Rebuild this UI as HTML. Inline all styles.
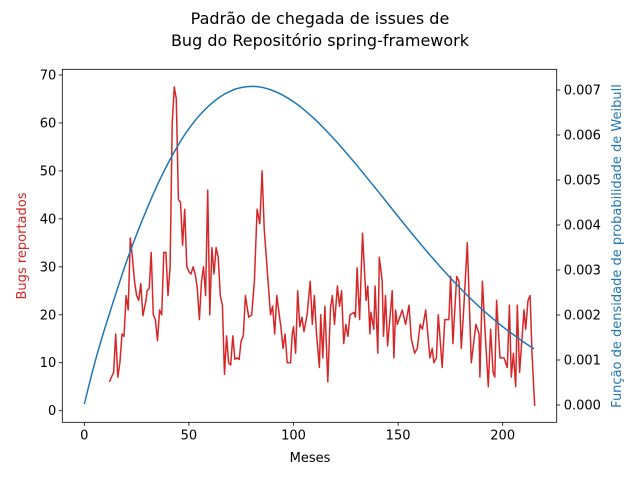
<!DOCTYPE html>
<html><head><meta charset="utf-8"><style>
body{margin:0;background:#fff;}
svg{display:block;font-family:"DejaVu Sans","Liberation Sans",sans-serif;}
</style></head><body>
<svg id="chart" width="640" height="480" viewBox="0 0 640 480">
<rect width="640" height="480" fill="#fff"/>
<text x="320" y="24" font-size="16" text-anchor="middle">Padrão de chegada de issues de</text>
<text x="320" y="46" font-size="16" text-anchor="middle">Bug do Repositório spring-framework</text>
<g id="plot"></g>
<text x="310" y="462" font-size="13" text-anchor="middle">Meses</text>
<text transform="translate(26,246) rotate(-90)" font-size="13" text-anchor="middle" fill="#d62728">Bugs reportados</text>
<text transform="translate(621,246) rotate(-90)" font-size="13" text-anchor="middle" fill="#1f77b4">Função de densidade de probabilidade de Weibull</text>
</svg>
<script>
const redMonths=[12,14,15,16,17,18,19,20,21,22,23,24,25,26,27,28,29.5,30,31,32,33,34,35,36,37,38,39,40,41,42,43,44,45,46,47,48,49,50,51,52,53,54,55,56,57,58,59,60,61,62,63,64,65,66,67,68,69,70,71,72,73,74,75,76,77,78.6,80,81.3,82.6,83.9,85,86,87,89,90,91,92,93.5,94,95,96,97,98.6,99.4,100,101,102,103,104,105,106.5,108,109,110,111,112.4,113,114,115,116.4,117.7,118.6,119.6,121,122,123,124,125,126,127,128.9,129.6,130.4,131.6,133,134.7,135.5,136.5,137,138.4,139,140.3,141,142.4,143,144,145,147.2,148,148.8,149.6,152,153.6,155.2,156.3,157.9,159.2,160.5,161.6,163.2,165.2,166.3,167.1,168.3,169.2,171.1,172.3,174.3,175.1,176.2,178,179.1,180.2,181.2,183.1,185,187.2,188.7,189.1,190.3,191.8,193.1,194.2,195.4,196.2,197.1,198.7,199.8,200.6,202.2,203.2,204.1,205.1,206.2,207,208.1,210.2,211,212.1,213.1,214,215.3];
const redCounts=[6,8,16,7,10,16,15.5,24,21,36,32,27,24,23,26.5,19.8,23,25,25.5,33,20,19,14.6,21,20,33,33,24,30,60,67.5,65,44,43.5,34.5,42,30,29,28.5,30,28.5,25.5,19,27,30,24,46,20,34,28.5,34,32,24,22,7.6,15.6,10,9.5,15.6,10.7,11,10.7,14.6,15.6,24,19.5,20,27,42,39,50,38,32,20,21.8,16,24,19,17.5,13,16,10,10,16,17.5,12,25,17.5,19.5,16.5,20,27,18,24,16,9,20,11,21.8,6,21.5,24,18,26,21.8,25,14,18,15.5,20,20.5,19.5,29.8,19,37,23,26,16,20.5,17,26,12,32,27,15.5,24,13.5,25,11,21,18,21,18,22,15,12,13,18,17,21,11,13,10,11,20,9,19,19,28,14,28,27,13,20,35,10,18,16,7,27,15,5,17,8,7,23,11,11,11,9,22,7,12,5,22,8,21,17,23,24,12,1];
const pdfMonths=[0,5,10,20,30,40,50,60,70,80,90,100,110,120,130,140,150,160,170,180,190,200,210,215];
const pdfValues=[0.00002,0.00094,0.00173,0.00316,0.00437,0.00537,0.00614,0.00667,0.00698,0.00708,0.00699,0.00674,0.00636,0.00588,0.00534,0.00477,0.00419,0.00362,0.00308,0.00258,0.00213,0.00174,0.0014,0.00125];
const xTicks=[0,50,100,150,200];
const leftTicks=[0,10,20,30,40,50,60,70];
const rightTicks=[0,0.001,0.002,0.003,0.004,0.005,0.006,0.007];
</script>
<script>
const svg=document.getElementById('chart');
const plot=document.getElementById('plot');
const NS='http://www.w3.org/2000/svg';
const L=62.3,R=556.7,T=69.3,B=422.3;
const xs=v=>84.3+(v)*(502.7-84.3)/200;
const yl=v=>410.7-v*(410.7-75)/70;
const yr=v=>405-v*(405-90)/0.007;
function mk(tag,attrs){const e=document.createElementNS(NS,tag);for(const k in attrs)e.setAttribute(k,attrs[k]);return e;}
xTicks.forEach(t=>{
  const g=mk('g',{});
  
  
  g.appendChild(mk('line',{x1:xs(t),x2:xs(t),y1:B,y2:B+3.5,stroke:'#000','stroke-width':0.8}));
  const tx=mk('text',{x:xs(t),y:B+17,'font-size':13,'text-anchor':'middle'});tx.textContent=t;g.appendChild(tx);
  svg.appendChild(g);
});
leftTicks.forEach(t=>{
  const g=mk('g',{});
  
  
  g.appendChild(mk('line',{x1:L-3.5,x2:L,y1:yl(t),y2:yl(t),stroke:'#000','stroke-width':0.8}));
  const tx=mk('text',{x:L-6,y:yl(t)+4.5,'font-size':13,'text-anchor':'end'});tx.textContent=t;g.appendChild(tx);
  svg.appendChild(g);
});
rightTicks.forEach(t=>{
  const g=mk('g',{});
  
  
  g.appendChild(mk('line',{x1:R,x2:R+3.5,y1:yr(t),y2:yr(t),stroke:'#000','stroke-width':0.8}));
  const tx=mk('text',{x:R+7,y:yr(t)+4.5,'font-size':13,'text-anchor':'start'});tx.textContent=t.toFixed(3);g.appendChild(tx);
  svg.appendChild(g);
});
let d='';redMonths.forEach((m,i)=>{d+=(i?'L':'M')+xs(m).toFixed(1)+','+yl(redCounts[i]).toFixed(1);});
const red=mk('path',{d:d,fill:'none',stroke:'#d62728','stroke-width':1.5,'stroke-linejoin':'round'});


plot.appendChild(red);
const P=pdfMonths.map((m,i)=>[xs(m),yr(pdfValues[i])]);
let b='M'+P[0][0]+','+P[0][1];
for(let i=0;i<P.length-1;i++){
  const p0=P[Math.max(0,i-1)],p1=P[i],p2=P[i+1],p3=P[Math.min(P.length-1,i+2)];
  const c1=[p1[0]+(p2[0]-p0[0])/6,p1[1]+(p2[1]-p0[1])/6];
  const c2=[p2[0]-(p3[0]-p1[0])/6,p2[1]-(p3[1]-p1[1])/6];
  b+=`C${c1[0].toFixed(1)},${c1[1].toFixed(1)} ${c2[0].toFixed(1)},${c2[1].toFixed(1)} ${p2[0].toFixed(1)},${p2[1].toFixed(1)}`;
}
const blue=mk('path',{d:b,fill:'none',stroke:'#1f77b4','stroke-width':1.5});


plot.appendChild(blue);
const frame=mk('rect',{x:L,y:T,width:R-L,height:B-T,fill:'none',stroke:'#000','stroke-width':0.8});


svg.appendChild(frame);
</script>
</body></html>
